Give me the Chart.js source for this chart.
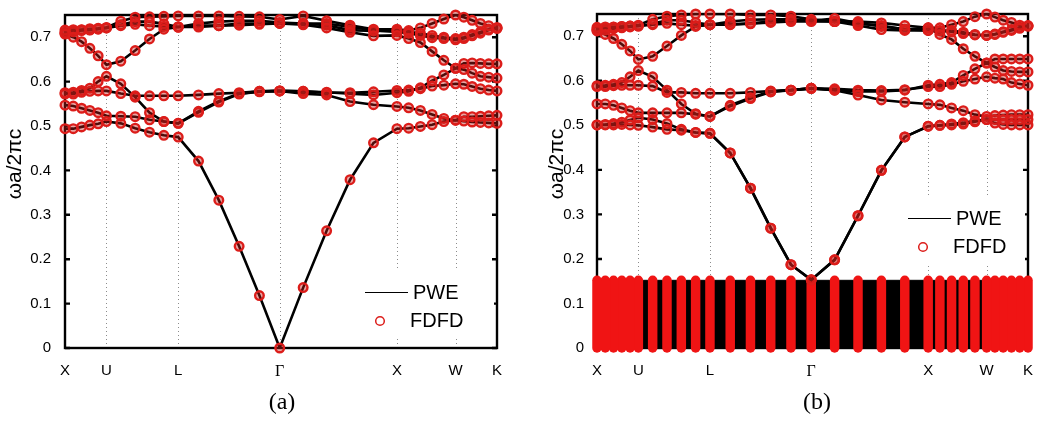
<!DOCTYPE html>
<html>
<head>
<meta charset="utf-8">
<script src="https://cdn.jsdelivr.net/npm/chart.js@4.4.1/dist/chart.umd.min.js"></script>
<style>
  body { margin: 0; background: #fff; width: 1039px; height: 421px; position: relative; overflow: hidden; }
  .panel { position: absolute; top: 0; }
  .cap { position: absolute; top: 388px; width: 80px; text-align: center;
         font: 24px "Liberation Serif", "Times New Roman", serif; color: #000; }
</style>
</head>
<body>
<div class="panel" style="left:0"><canvas id="chartA" width="520" height="390"></canvas></div>
<div class="panel" style="left:520px"><canvas id="chartB" width="519" height="390"></canvas></div>
<div class="cap" style="left:242px">(a)</div>
<div class="cap" style="left:777px">(b)</div>
<script>
// k-path X-U-L-Γ-X-W-K, 5 steps per segment (units of 2π/a)
const kPath = [0, 0.0707, 0.1414, 0.2121, 0.2828, 0.3536,
  0.4760, 0.5985, 0.7210, 0.8434, 0.9659,
  1.1391, 1.3123, 1.4855, 1.6587, 1.8319,
  2.0319, 2.2319, 2.4319, 2.6319, 2.8319,
  2.9319, 3.0319, 3.1319, 3.2319, 3.3319,
  3.4026, 3.4733, 3.5441, 3.6148, 3.6855];
const kTicks  = [0, 0.3536, 0.9659, 1.8319, 2.8319, 3.3319, 3.6855];
const kLabels = ['X', 'U', 'L', 'Γ', 'X', 'W', 'K'];
const yTicks  = [0, 0.1, 0.2, 0.3, 0.4, 0.5, 0.6, 0.7];

// (a) bands, ωa/2πc at each k point
const bandA1 = [0.494, 0.494, 0.498, 0.502, 0.505, 0.510, 0.506, 0.495, 0.486, 0.479, 0.475,
  0.421, 0.333, 0.229, 0.118, 0.000, 0.136, 0.264, 0.379, 0.462, 0.494,
  0.495, 0.499, 0.503, 0.510, 0.513, 0.511, 0.509, 0.508, 0.507, 0.506];
const bandA2 = [0.547, 0.545, 0.540, 0.535, 0.530, 0.523, 0.522, 0.521, 0.514, 0.510, 0.506,
  0.533, 0.556, 0.573, 0.578, 0.579, 0.573, 0.570, 0.555, 0.548, 0.544,
  0.541, 0.535, 0.526, 0.517, 0.513, 0.521, 0.521, 0.522, 0.523, 0.524];
const bandA3 = [0.575, 0.576, 0.580, 0.585, 0.600, 0.612, 0.595, 0.565, 0.530, 0.510, 0.506,
  0.531, 0.554, 0.572, 0.577, 0.579, 0.578, 0.575, 0.575, 0.577, 0.580,
  0.581, 0.584, 0.590, 0.592, 0.595, 0.594, 0.589, 0.584, 0.581, 0.579];
const bandA4 = [0.572, 0.572, 0.576, 0.578, 0.579, 0.579, 0.573, 0.568, 0.568, 0.568, 0.568,
  0.570, 0.573, 0.575, 0.578, 0.579, 0.578, 0.576, 0.573, 0.570, 0.575,
  0.578, 0.586, 0.602, 0.615, 0.630, 0.627, 0.619, 0.612, 0.610, 0.608];
const bandA5 = [0.707, 0.700, 0.690, 0.675, 0.658, 0.638, 0.646, 0.670, 0.696, 0.718, 0.723,
  0.726, 0.726, 0.731, 0.731, 0.731, 0.728, 0.721, 0.711, 0.703, 0.704,
  0.697, 0.688, 0.668, 0.648, 0.630, 0.641, 0.642, 0.641, 0.640, 0.640];
const bandA6 = [0.716, 0.717, 0.716, 0.716, 0.718, 0.721, 0.726, 0.729, 0.726, 0.724, 0.723,
  0.723, 0.726, 0.727, 0.729, 0.731, 0.731, 0.731, 0.723, 0.716, 0.712,
  0.709, 0.704, 0.699, 0.697, 0.694, 0.697, 0.703, 0.709, 0.716, 0.720];
const bandA7 = [0.711, 0.714, 0.717, 0.719, 0.720, 0.722, 0.736, 0.745, 0.746, 0.747, 0.748,
  0.748, 0.748, 0.747, 0.746, 0.740, 0.748, 0.737, 0.727, 0.718, 0.718,
  0.715, 0.721, 0.731, 0.741, 0.750, 0.745, 0.738, 0.731, 0.726, 0.720];
const bandA8 = [0.709, 0.712, 0.715, 0.717, 0.719, 0.721, 0.728, 0.735, 0.735, 0.730, 0.723,
  0.731, 0.735, 0.737, 0.737, 0.733, 0.731, 0.727, 0.716, 0.714, 0.714,
  0.712, 0.709, 0.704, 0.700, 0.697, 0.700, 0.706, 0.712, 0.718, 0.722];

// (b) bands
const bandB1 = [0.501, 0.501, 0.501, 0.502, 0.501, 0.500, 0.496, 0.491, 0.489, 0.484, 0.482,
  0.438, 0.359, 0.269, 0.187, 0.153, 0.198, 0.297, 0.399, 0.474, 0.498,
  0.500, 0.501, 0.503, 0.508, 0.513, 0.505, 0.502, 0.501, 0.501, 0.501];
const bandB2 = [0.548, 0.548, 0.545, 0.539, 0.533, 0.528, 0.528, 0.528, 0.528, 0.525, 0.520,
  0.545, 0.562, 0.576, 0.579, 0.583, 0.579, 0.568, 0.557, 0.552, 0.548,
  0.546, 0.539, 0.533, 0.524, 0.520, 0.522, 0.523, 0.524, 0.524, 0.524];
const bandB3 = [0.589, 0.590, 0.592, 0.596, 0.609, 0.623, 0.609, 0.579, 0.548, 0.526, 0.520,
  0.543, 0.560, 0.575, 0.579, 0.583, 0.582, 0.579, 0.578, 0.580, 0.587,
  0.587, 0.592, 0.599, 0.604, 0.609, 0.606, 0.604, 0.596, 0.593, 0.590];
const bandB4 = [0.587, 0.587, 0.589, 0.590, 0.590, 0.590, 0.588, 0.574, 0.574, 0.572, 0.572,
  0.572, 0.574, 0.577, 0.579, 0.583, 0.579, 0.576, 0.576, 0.579, 0.590,
  0.592, 0.596, 0.612, 0.627, 0.640, 0.631, 0.623, 0.621, 0.620, 0.620];
const bandB5 = [0.714, 0.704, 0.695, 0.682, 0.667, 0.648, 0.655, 0.678, 0.702, 0.722, 0.726,
  0.727, 0.729, 0.733, 0.735, 0.735, 0.733, 0.728, 0.724, 0.715, 0.719,
  0.704, 0.693, 0.672, 0.655, 0.640, 0.649, 0.649, 0.649, 0.649, 0.649];
const bandB6 = [0.720, 0.721, 0.721, 0.722, 0.723, 0.723, 0.726, 0.729, 0.726, 0.724, 0.726,
  0.726, 0.728, 0.731, 0.733, 0.733, 0.733, 0.724, 0.715, 0.713, 0.713,
  0.713, 0.713, 0.709, 0.704, 0.702, 0.704, 0.709, 0.713, 0.718, 0.723];
const bandB7 = [0.716, 0.718, 0.720, 0.722, 0.723, 0.725, 0.738, 0.745, 0.748, 0.750, 0.750,
  0.750, 0.748, 0.748, 0.745, 0.738, 0.733, 0.733, 0.730, 0.724, 0.719,
  0.719, 0.726, 0.733, 0.744, 0.750, 0.743, 0.736, 0.731, 0.725, 0.723];
const bandB8 = [0.712, 0.714, 0.717, 0.719, 0.721, 0.723, 0.728, 0.736, 0.736, 0.731, 0.726,
  0.733, 0.737, 0.738, 0.738, 0.735, 0.740, 0.730, 0.722, 0.716, 0.713,
  0.712, 0.710, 0.706, 0.703, 0.702, 0.705, 0.710, 0.715, 0.720, 0.724];
const bandB9 = [0.501, 0.502, 0.504, 0.507, 0.512, 0.517, 0.513, 0.504, 0.491, 0.484, 0.482,
  0.438, 0.359, 0.269, 0.187, 0.153, 0.198, 0.297, 0.399, 0.474, 0.498,
  0.500, 0.503, 0.506, 0.510, 0.513, 0.513, 0.513, 0.513, 0.513, 0.513];

// (b) spurious flat modes packed between these two frequencies
const lowModeFloor = 0;
const lowModeTop = 0.152;

const sans  = '"Liberation Sans", Arial, sans-serif';
const serif = '"Liberation Serif", "Times New Roman", serif';
const fdfdRed = '#dc1d1a';

const pts = band => kPath.map((k, i) => ({ x: k, y: band[i] }));

function bandDatasets(bands) {
  const out = [];
  bands.forEach(b => {
    out.push({ data: pts(b), borderColor: '#000', borderWidth: 2.6, pointRadius: 0, order: 3 });
    out.push({ data: pts(b), showLine: false, pointRadius: 4.3, pointBorderWidth: 2.4,
               pointBorderColor: fdfdRed, pointBackgroundColor: 'rgba(200,30,26,0.4)', clip: false, order: 1 });
  });
  return out;
}

function lowModeDatasets() {
  const out = [{
    data: [{ x: kTicks[0], y: lowModeTop }, { x: kTicks[kTicks.length - 1], y: lowModeTop }],
    borderColor: '#000', borderWidth: 1, backgroundColor: '#000', fill: 'origin', pointRadius: 0, order: 6
  }];
  kPath.forEach(k => out.push({
    data: [{ x: k, y: lowModeFloor }, { x: k, y: lowModeTop }],
    borderColor: '#f01414', borderWidth: 9.5, borderCapStyle: 'round', pointRadius: 0, clip: false, order: 5
  }));
  return out;
}

// frame, inward ticks, dotted symmetry lines, legend and y title
const decor = {
  id: 'decor',
  beforeDatasetsDraw(chart, args, o) {
    const { ctx, chartArea: a, scales: { x, y } } = chart;
    ctx.save();
    ctx.strokeStyle = '#8c8c8c'; ctx.lineWidth = 1; ctx.setLineDash([1, 3]);
    kTicks.slice(1, -1).forEach(k => {
      const px = Math.round(x.getPixelForValue(k)) + 0.5;
      ctx.beginPath(); ctx.moveTo(px, a.top); ctx.lineTo(px, a.bottom); ctx.stroke();
    });
    ctx.setLineDash([]);
    ctx.strokeStyle = '#000'; ctx.lineWidth = 2.4;
    ctx.strokeRect(a.left, a.top, a.right - a.left, a.bottom - a.top);
    yTicks.forEach(v => {
      const py = y.getPixelForValue(v);
      ctx.beginPath();
      ctx.moveTo(a.left, py); ctx.lineTo(a.left + 5, py);
      ctx.moveTo(a.right - 5, py); ctx.lineTo(a.right, py);
      ctx.stroke();
    });
    ctx.restore();
  },
  afterDatasetsDraw(chart, args, o) {
    const { ctx, chartArea: a } = chart;
    ctx.save();
    ctx.fillStyle = '#fff';
    ctx.fillRect(o.lx, o.ly, a.right - 3 - o.lx, 68);
    ctx.strokeStyle = '#000'; ctx.lineWidth = 1;
    ctx.beginPath(); ctx.moveTo(o.lx + 10, o.ly + 22.5); ctx.lineTo(o.lx + 53, o.ly + 22.5); ctx.stroke();
    ctx.strokeStyle = fdfdRed; ctx.lineWidth = 1.5;
    ctx.beginPath(); ctx.arc(o.lx + 25, o.ly + 51, 4.3, 0, Math.PI * 2); ctx.stroke();
    ctx.fillStyle = '#000'; ctx.font = '20px ' + sans; ctx.textBaseline = 'middle';
    ctx.fillText('PWE', o.lx + 58, o.ly + 23);
    ctx.fillText('FDFD', o.lx + 55, o.ly + 51);
    ctx.translate(o.tx, 164); ctx.rotate(-Math.PI / 2);
    ctx.textAlign = 'center'; ctx.font = '21px ' + sans;
    ctx.fillText('ωa/2πc', 0, 0);
    ctx.restore();
  }
};

function makeChart(id, datasets, p) {
  return new Chart(document.getElementById(id), {
    type: 'line',
    data: { datasets },
    plugins: [decor],
    options: {
      animation: false, responsive: false, events: [],
      layout: { padding: { left: 0, top: p.top, right: p.right, bottom: 0 } },
      elements: { line: { tension: 0 } },
      scales: {
        x: {
          type: 'linear', min: kTicks[0], max: kTicks[kTicks.length - 1],
          afterBuildTicks: s => { s.ticks = kTicks.map(v => ({ value: v })); },
          afterFit: s => { s.height = 42; },
          grid: { display: false }, border: { display: false },
          ticks: {
            autoSkip: false, maxRotation: 0, padding: 6, color: '#000',
            font: c => ({ family: kLabels[c.index] === 'Γ' ? serif : sans, size: kLabels[c.index] === 'Γ' ? 16 : 15 }),
            callback: (v, i) => kLabels[i]
          }
        },
        y: {
          min: 0, max: 0.75,
          afterBuildTicks: s => { s.ticks = yTicks.map(v => ({ value: v })); },
          afterFit: s => { s.width = p.yw; },
          grid: { display: false }, border: { display: false },
          ticks: { padding: p.ypad, color: '#000', font: { family: sans, size: 15 },
                   callback: v => v === 0 ? '0' : v.toFixed(1) }
        }
      },
      plugins: {
        legend: { display: false }, tooltip: { enabled: false },
        decor: { lx: p.lx, ly: p.ly, tx: p.tx }
      }
    }
  });
}

makeChart('chartA',
  bandDatasets([bandA1, bandA2, bandA3, bandA4, bandA5, bandA6, bandA7, bandA8]),
  { top: 6, right: 23, yw: 65, ypad: 6, lx: 355, ly: 270, tx: 15 });

makeChart('chartB',
  bandDatasets([bandB1, bandB9, bandB2, bandB3, bandB4, bandB5, bandB6, bandB7, bandB8]).concat(lowModeDatasets()),
  { top: 8, right: 9, yw: 77, ypad: 5, lx: 378, ly: 196, tx: 37 });
</script>
</body>
</html>
